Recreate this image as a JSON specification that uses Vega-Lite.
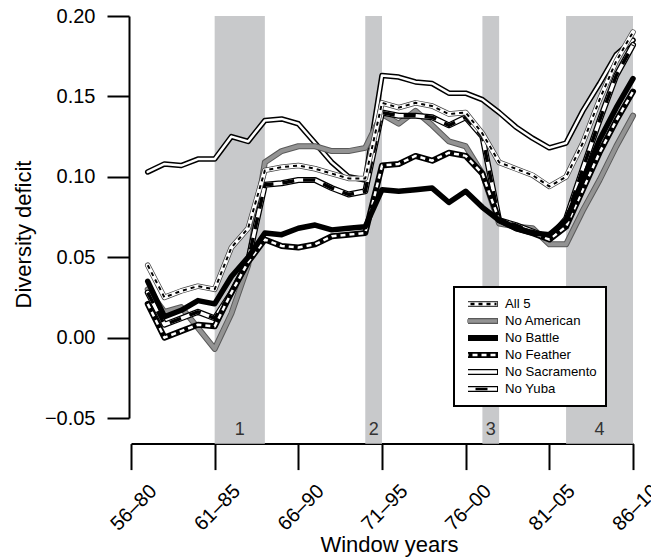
{
  "$schema": "https://vega.github.io/schema/vega-lite/v6.json",
  "width": 502,
  "height": 402,
  "autosize": "none",
  "padding": {"left": 131, "top": 16, "right": 18, "bottom": 142},
  "background": "white",
  "config": {
    "view": {"stroke": null},
    "font": "Liberation Sans",
    "legend": {"strokeWidth": 2}
  },
  "datasets": {
    "deficit": [
      {"start": 1957, "All 5": 0.045, "No American": 0.030, "No Battle": 0.035, "No Feather": 0.021, "No Sacramento": 0.103, "No Yuba": 0.028},
      {"start": 1958, "All 5": 0.025, "No American": 0.016, "No Battle": 0.013, "No Feather": 0.000, "No Sacramento": 0.108, "No Yuba": 0.008},
      {"start": 1959, "All 5": 0.029, "No American": 0.019, "No Battle": 0.017, "No Feather": 0.004, "No Sacramento": 0.107, "No Yuba": 0.012},
      {"start": 1960, "All 5": 0.032, "No American": 0.006, "No Battle": 0.023, "No Feather": 0.008, "No Sacramento": 0.111, "No Yuba": 0.016},
      {"start": 1961, "All 5": 0.030, "No American": -0.007, "No Battle": 0.021, "No Feather": 0.007, "No Sacramento": 0.111, "No Yuba": 0.012},
      {"start": 1962, "All 5": 0.056, "No American": 0.015, "No Battle": 0.038, "No Feather": 0.028, "No Sacramento": 0.125, "No Yuba": 0.028},
      {"start": 1963, "All 5": 0.068, "No American": 0.045, "No Battle": 0.050, "No Feather": 0.047, "No Sacramento": 0.122, "No Yuba": 0.048},
      {"start": 1964, "All 5": 0.104, "No American": 0.109, "No Battle": 0.065, "No Feather": 0.061, "No Sacramento": 0.135, "No Yuba": 0.095},
      {"start": 1965, "All 5": 0.106, "No American": 0.116, "No Battle": 0.064, "No Feather": 0.057, "No Sacramento": 0.136, "No Yuba": 0.096},
      {"start": 1966, "All 5": 0.107, "No American": 0.119, "No Battle": 0.068, "No Feather": 0.056, "No Sacramento": 0.133, "No Yuba": 0.098},
      {"start": 1967, "All 5": 0.105, "No American": 0.119, "No Battle": 0.070, "No Feather": 0.058, "No Sacramento": 0.121, "No Yuba": 0.098},
      {"start": 1968, "All 5": 0.102, "No American": 0.116, "No Battle": 0.067, "No Feather": 0.063, "No Sacramento": 0.109, "No Yuba": 0.093},
      {"start": 1969, "All 5": 0.099, "No American": 0.116, "No Battle": 0.068, "No Feather": 0.064, "No Sacramento": 0.100, "No Yuba": 0.089},
      {"start": 1970, "All 5": 0.099, "No American": 0.118, "No Battle": 0.069, "No Feather": 0.065, "No Sacramento": 0.098, "No Yuba": 0.091},
      {"start": 1971, "All 5": 0.146, "No American": 0.139, "No Battle": 0.092, "No Feather": 0.107, "No Sacramento": 0.163, "No Yuba": 0.140},
      {"start": 1972, "All 5": 0.143, "No American": 0.133, "No Battle": 0.091, "No Feather": 0.108, "No Sacramento": 0.162, "No Yuba": 0.138},
      {"start": 1973, "All 5": 0.146, "No American": 0.141, "No Battle": 0.092, "No Feather": 0.113, "No Sacramento": 0.159, "No Yuba": 0.138},
      {"start": 1974, "All 5": 0.144, "No American": 0.132, "No Battle": 0.093, "No Feather": 0.110, "No Sacramento": 0.158, "No Yuba": 0.137},
      {"start": 1975, "All 5": 0.139, "No American": 0.122, "No Battle": 0.084, "No Feather": 0.115, "No Sacramento": 0.152, "No Yuba": 0.132},
      {"start": 1976, "All 5": 0.140, "No American": 0.119, "No Battle": 0.091, "No Feather": 0.113, "No Sacramento": 0.152, "No Yuba": 0.137},
      {"start": 1977, "All 5": 0.127, "No American": 0.102, "No Battle": 0.081, "No Feather": 0.102, "No Sacramento": 0.148, "No Yuba": 0.125},
      {"start": 1978, "All 5": 0.109, "No American": 0.071, "No Battle": 0.073, "No Feather": 0.073, "No Sacramento": 0.140, "No Yuba": 0.073},
      {"start": 1979, "All 5": 0.105, "No American": 0.069, "No Battle": 0.068, "No Feather": 0.068, "No Sacramento": 0.131, "No Yuba": 0.070},
      {"start": 1980, "All 5": 0.101, "No American": 0.068, "No Battle": 0.065, "No Feather": 0.065, "No Sacramento": 0.124, "No Yuba": 0.066},
      {"start": 1981, "All 5": 0.094, "No American": 0.058, "No Battle": 0.064, "No Feather": 0.061, "No Sacramento": 0.118, "No Yuba": 0.062},
      {"start": 1982, "All 5": 0.100, "No American": 0.058, "No Battle": 0.073, "No Feather": 0.069, "No Sacramento": 0.121, "No Yuba": 0.074},
      {"start": 1983, "All 5": 0.121, "No American": 0.079, "No Battle": 0.098, "No Feather": 0.092, "No Sacramento": 0.141, "No Yuba": 0.105},
      {"start": 1984, "All 5": 0.148, "No American": 0.098, "No Battle": 0.123, "No Feather": 0.115, "No Sacramento": 0.158, "No Yuba": 0.135},
      {"start": 1985, "All 5": 0.172, "No American": 0.119, "No Battle": 0.143, "No Feather": 0.135, "No Sacramento": 0.176, "No Yuba": 0.163},
      {"start": 1986, "All 5": 0.190, "No American": 0.138, "No Battle": 0.161, "No Feather": 0.153, "No Sacramento": 0.185, "No Yuba": 0.182}
    ]
  },
  "layer": [
    {
      "data": {"values": [
        {"start": 1961, "end": 1964, "period": "1"},
        {"start": 1970, "end": 1971, "period": "2"},
        {"start": 1977, "end": 1978, "period": "3"},
        {"start": 1982, "end": 1986, "period": "4"}
      ]},
      "layer": [
        {
          "mark": {"type": "rect", "fill": "#c8c9cb"},
          "encoding": {
            "x": {"field": "start", "type": "quantitative"},
            "x2": {"field": "end"},
            "y": {"datum": 0.2, "type": "quantitative"},
            "y2": {"datum": -0.066}
          }
        },
        {
          "transform": [{"calculate": "(datum.start + datum.end) / 2", "as": "mid"}],
          "mark": {"type": "text", "fontSize": 18, "fill": "#333333", "align": "center", "baseline": "middle"},
          "encoding": {
            "x": {"field": "mid", "type": "quantitative"},
            "y": {"datum": -0.0577, "type": "quantitative"},
            "text": {"field": "period"}
          }
        }
      ]
    },
    {
      "data": {"name": "deficit"},
      "transform": [
        {"fold": ["All 5", "No American", "No Battle", "No Feather", "No Sacramento", "No Yuba"], "as": ["series", "deficit"]}
      ],
      "encoding": {
        "x": {
          "field": "start",
          "type": "quantitative",
          "title": "Window years",
          "scale": {"domain": [1956, 1986], "nice": false, "zero": false},
          "axis": {
            "values": [1956, 1961, 1966, 1971, 1976, 1981, 1986],
            "labelExpr": "format(datum.value % 100, '02d') + '–' + format((datum.value + 24) % 100, '02d')",
            "grid": false,
            "offset": 25.6,
            "domainColor": "black",
            "domainWidth": 2,
            "tickColor": "black",
            "tickWidth": 2,
            "tickSize": 26,
            "labelAngle": -45,
            "labelAlign": "right",
            "labelBaseline": "top",
            "labelFontSize": 20,
            "labelColor": "black",
            "labelPadding": 11,
            "labelOffset": 15,
            "labelFlush": false,
            "labelOverlap": false,
            "titleFontSize": 22,
            "titleFontWeight": "normal",
            "titleColor": "black",
            "titlePadding": 0,
            "titleX": 258
          }
        },
        "y": {
          "field": "deficit",
          "type": "quantitative",
          "title": "Diversity deficit",
          "scale": {"domain": [-0.05, 0.2], "nice": false, "zero": false},
          "axis": {
            "values": [-0.05, 0, 0.05, 0.1, 0.15, 0.2],
            "format": ".2f",
            "grid": false,
            "offset": 2,
            "domainColor": "black",
            "domainWidth": 2,
            "tickColor": "black",
            "tickWidth": 2,
            "tickSize": 22,
            "labelFontSize": 20,
            "labelColor": "black",
            "labelPadding": 12,
            "titleFontSize": 22,
            "titleFontWeight": "normal",
            "titleColor": "black",
            "titlePadding": 9,
            "titleY": 218
          }
        }
      },
      "layer": [
        {
          "transform": [{"filter": "false"}],
          "mark": {"type": "line"},
          "encoding": {
            "stroke": {
              "field": "series",
              "type": "nominal",
              "scale": {"domain": ["All 5", "No American", "No Battle", "No Feather", "No Sacramento", "No Yuba"], "range": ["#444444", "#5a5a5a", "black", "black", "black", "black"]},
              "legend": {
                "orient": "none", "legendX": 323, "legendY": 271, "title": null,
                "fillColor": "white", "strokeColor": "black", "padding": 9,
                "symbolType": "M-1.875,0H1.875", "symbolSize": 256, "symbolStrokeWidth": 6, "symbolFillColor": "transparent",
                "symbolOffset": 9, "labelOffset": 11, "clipHeight": 16, "rowPadding": 1,
                "labelFontSize": 13.2, "labelColor": "black", "labelFont": "Liberation Sans"
              }
            }
          }
        },
        {
          "transform": [{"filter": "false"}],
          "mark": {"type": "line"},
          "encoding": {
            "stroke": {
              "field": "series",
              "type": "nominal",
              "scale": {"domain": ["All 5", "No American", "No Battle", "No Feather", "No Sacramento", "No Yuba"], "range": ["white", "#939393", "transparent", "transparent", "white", "white"]},
              "legend": {
                "orient": "none", "legendX": 323, "legendY": 271, "title": null,
                "fillColor": "transparent", "strokeColor": "transparent", "padding": 9,
                "symbolType": "M-1.875,0H1.875", "symbolSize": 256, "symbolStrokeWidth": 3.5, "symbolFillColor": "transparent",
                "symbolOffset": 9, "labelOffset": 11, "clipHeight": 16, "rowPadding": 1,
                "labelFontSize": 13.2, "labelExpr": "''"
              }
            }
          }
        },
        {
          "transform": [{"filter": "false"}],
          "mark": {"type": "line"},
          "encoding": {
            "stroke": {
              "field": "series",
              "type": "nominal",
              "scale": {"domain": ["All 5", "No American", "No Battle", "No Feather", "No Sacramento", "No Yuba"], "range": ["black", "transparent", "transparent", "white", "transparent", "black"]},
              "legend": {
                "orient": "none", "legendX": 323, "legendY": 271, "title": null,
                "fillColor": "transparent", "strokeColor": "transparent", "padding": 9,
                "symbolType": "M-1.875,0H1.875", "symbolSize": 256, "symbolStrokeWidth": 2.5, "symbolFillColor": "transparent",
                "symbolDashOffset": 12,
                "symbolOffset": 9, "labelOffset": 11, "clipHeight": 16, "rowPadding": 1,
                "labelFontSize": 13.2, "labelExpr": "''"
              }
            },
            "strokeDash": {
              "field": "series",
              "type": "nominal",
              "scale": {"domain": ["All 5", "No American", "No Battle", "No Feather", "No Sacramento", "No Yuba"], "range": [[4, 4], [1, 0], [1, 0], [5, 4], [1, 0], [12, 9]]}
            }
          }
        },
        {
          "transform": [{"filter": "datum.series === 'No Sacramento'"}],
          "mark": {"type": "line", "stroke": "black", "strokeWidth": 5.5, "strokeCap": "round", "strokeJoin": "round"}
        },
        {
          "transform": [{"filter": "datum.series === 'No Sacramento'"}],
          "mark": {"type": "line", "stroke": "white", "strokeWidth": 2.5, "strokeCap": "round", "strokeJoin": "round"}
        },
        {
          "transform": [{"filter": "datum.series === 'No American'"}],
          "mark": {"type": "line", "stroke": "#5a5a5a", "strokeWidth": 6, "strokeCap": "round", "strokeJoin": "round"}
        },
        {
          "transform": [{"filter": "datum.series === 'No American'"}],
          "mark": {"type": "line", "stroke": "#939393", "strokeWidth": 4, "strokeCap": "round", "strokeJoin": "round"}
        },
        {
          "transform": [{"filter": "datum.series === 'No Yuba'"}],
          "mark": {"type": "line", "stroke": "black", "strokeWidth": 6, "strokeCap": "round", "strokeJoin": "round"}
        },
        {
          "transform": [{"filter": "datum.series === 'No Yuba'"}],
          "mark": {"type": "line", "stroke": "white", "strokeWidth": 3.5, "strokeCap": "round", "strokeJoin": "round"}
        },
        {
          "transform": [{"filter": "datum.series === 'No Yuba'"}],
          "mark": {"type": "line", "stroke": "black", "strokeWidth": 3.5, "strokeDash": [12, 9], "strokeJoin": "round"}
        },
        {
          "transform": [{"filter": "datum.series === 'No Feather'"}],
          "mark": {"type": "line", "stroke": "black", "strokeWidth": 6, "strokeCap": "round", "strokeJoin": "round"}
        },
        {
          "transform": [{"filter": "datum.series === 'No Feather'"}],
          "mark": {"type": "line", "stroke": "white", "strokeWidth": 2.5, "strokeDash": [5, 4], "strokeJoin": "round"}
        },
        {
          "transform": [{"filter": "datum.series === 'No Battle'"}],
          "mark": {"type": "line", "stroke": "black", "strokeWidth": 5.5, "strokeCap": "round", "strokeJoin": "round"}
        },
        {
          "transform": [{"filter": "datum.series === 'All 5'"}],
          "mark": {"type": "line", "stroke": "#444444", "strokeWidth": 5.5, "strokeCap": "round", "strokeJoin": "round"}
        },
        {
          "transform": [{"filter": "datum.series === 'All 5'"}],
          "mark": {"type": "line", "stroke": "white", "strokeWidth": 4, "strokeCap": "round", "strokeJoin": "round"}
        },
        {
          "transform": [{"filter": "datum.series === 'All 5'"}],
          "mark": {"type": "line", "stroke": "black", "strokeWidth": 2, "strokeDash": [4, 4], "strokeJoin": "round"}
        }
      ],
      "resolve": {
        "scale": {"stroke": "independent", "strokeDash": "independent"},
        "legend": {"stroke": "independent", "strokeDash": "independent"}
      }
    }
  ],
  "resolve": {
    "scale": {"stroke": "independent", "strokeDash": "independent"},
    "legend": {"stroke": "independent", "strokeDash": "independent"}
  }
}
